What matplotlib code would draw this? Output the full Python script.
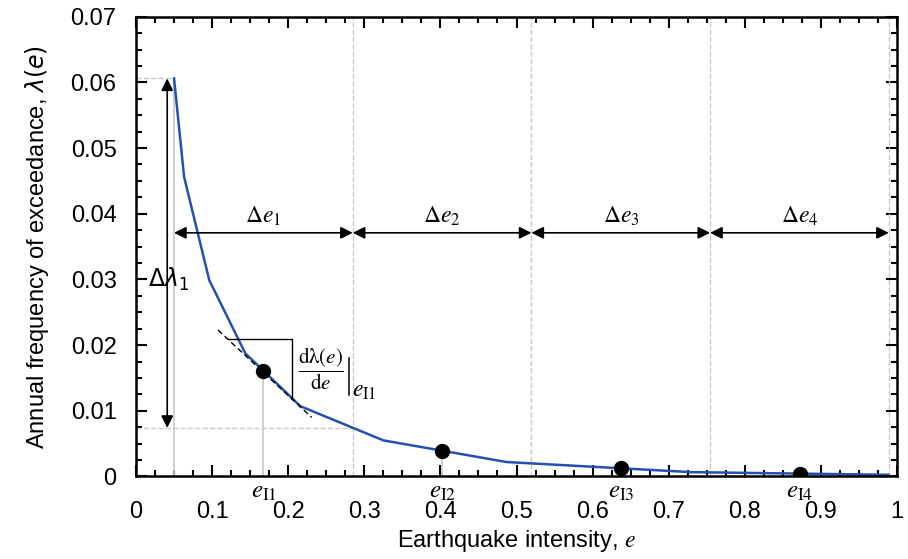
import numpy as np
import matplotlib
matplotlib.use("Agg")
import matplotlib.pyplot as plt
from matplotlib.ticker import MultipleLocator
import matplotlib.transforms as mtransforms

plt.rcParams['font.family'] = ['Liberation Sans', 'DejaVu Sans']
plt.rcParams['mathtext.fontset'] = 'stix'

# hazard curve
e_curve = [0.05, 0.0632, 0.0962, 0.1436, 0.216, 0.325, 0.487, 0.730, 0.989]
lam_curve = [0.0606, 0.0456, 0.0299, 0.01875, 0.0107, 0.0055, 0.0022, 0.00066, 0.00026]

# interval bounds and integration points
e_bounds = [0.05, 0.2848, 0.5196, 0.7544, 0.9892]
e_points = [0.1675, 0.4023, 0.6371, 0.8719]
lam_points = [0.0160, 0.00388, 0.00127, 0.00042]
point_labels = [r'$e_{\mathrm{I1}}$', r'$e_{\mathrm{I2}}$', r'$e_{\mathrm{I3}}$', r'$e_{\mathrm{I4}}$']
de_labels = [r'$\Delta e_1$', r'$\Delta e_2$', r'$\Delta e_3$', r'$\Delta e_4$']

lam_top = 0.0606
lam_bottom = 0.00740

# tangent at e_I1
tan_e = [0.1078, 0.2308]
tan_lam = [0.0223, 0.0090]
tri_e = [0.121, 0.2051, 0.2051]
tri_lam = [0.0209, 0.0209, 0.0118]
# "evaluated at" bar
bar_e = [0.2803, 0.2803]
bar_lam = [0.0180, 0.0124]

xticks = [0, 0.1, 0.2, 0.3, 0.4, 0.5, 0.6, 0.7, 0.8, 0.9, 1.0]
xticklabels = ['0', '0.1', '0.2', '0.3', '0.4', '0.5', '0.6', '0.7', '0.8', '0.9', '1']
yticks = [0, 0.01, 0.02, 0.03, 0.04, 0.05, 0.06, 0.07]
yticklabels = ['0', '0.01', '0.02', '0.03', '0.04', '0.05', '0.06', '0.07']

fig = plt.figure(figsize=(9.08, 5.59), dpi=100)
ax = fig.add_axes([0.1498, 0.1476, 0.8381, 0.8225])

gray = '#c8c8c8'
# guide lines
ax.plot([0, e_bounds[0]], [lam_top, lam_top], ls='--', color=gray, lw=1)
ax.plot([0, e_bounds[1]], [lam_bottom, lam_bottom], ls='--', color=gray, lw=1)
ax.plot([e_bounds[0], e_bounds[0]], [0, lam_top], color=gray, lw=1.2)
for b in e_bounds[1:]:
    ax.plot([b, b], [0, 0.07], ls='--', color=gray, lw=1)
for x, y in zip(e_points, lam_points):
    ax.plot([x, x], [0, y], color=gray, lw=1.2)

# hazard curve
ax.plot(e_curve, lam_curve, color='#2450b0', lw=1.8)

# tangent and slope triangle
ax.plot(tan_e, tan_lam, color='black', ls=(0, (4, 2.5)), lw=1)
ax.plot(tri_e, tri_lam, color='black', lw=1)
ax.text(0.243, 0.0164, r'$\dfrac{\mathrm{d\lambda}(e)}{\mathrm{d}e}$', fontsize=15,
        ha='center', va='center')
ax.plot(bar_e, bar_lam, color='black', lw=1.1)
ax.text(0.2835, 0.0121, r'$e_{\mathrm{I1}}$', fontsize=17, ha='left', va='baseline')

# points
ax.plot(e_points, lam_points, 'o', color='black', ms=10, zorder=5)

# interval arrows
arr = dict(arrowstyle='<|-|>', color='black', lw=1.2, mutation_scale=18, shrinkA=0, shrinkB=0)
for i in range(4):
    ax.annotate('', xy=(e_bounds[i + 1], 0.0371), xytext=(e_bounds[i], 0.0371), arrowprops=arr)
    ax.text(e_points[i], 0.0378, de_labels[i], fontsize=17, ha='center', va='bottom')

ax.annotate('', xy=(0.041, lam_top), xytext=(0.041, lam_bottom), arrowprops=arr)
ax.text(0.043, 0.0300, r'$\Delta\lambda_1$', fontsize=17, ha='center', va='center',
        math_fontfamily='dejavusans')

# point labels below axis
trans = mtransforms.blended_transform_factory(ax.transData, ax.transAxes)
for x, lab in zip(e_points, point_labels):
    ax.text(x, -0.006, lab, transform=trans, fontsize=18, ha='center', va='top', clip_on=False)

ax.set_xlim(0, 1)
ax.set_ylim(0, 0.07)
ax.set_xticks(xticks)
ax.set_xticklabels(xticklabels)
ax.set_yticks(yticks)
ax.set_yticklabels(yticklabels)
ax.xaxis.set_minor_locator(MultipleLocator(0.025))
ax.yaxis.set_minor_locator(MultipleLocator(0.0025))
ax.tick_params(which='both', direction='in', top=True, right=True, width=1.5, labelsize=17)
ax.tick_params(which='major', length=8)
ax.tick_params(which='minor', length=4.5)
ax.tick_params(axis='x', pad=18)
ax.tick_params(axis='y', pad=14)
for s in ax.spines.values():
    s.set_linewidth(1.8)

ax.set_xlabel(r'Earthquake intensity, $e$', fontsize=17, labelpad=3)
ax.set_ylabel(r'Annual frequency of exceedance, $\lambda(e)$', fontsize=17, labelpad=14)
ax.yaxis.label.set_math_fontfamily('dejavusans')

fig.savefig('out.png', dpi=100)
